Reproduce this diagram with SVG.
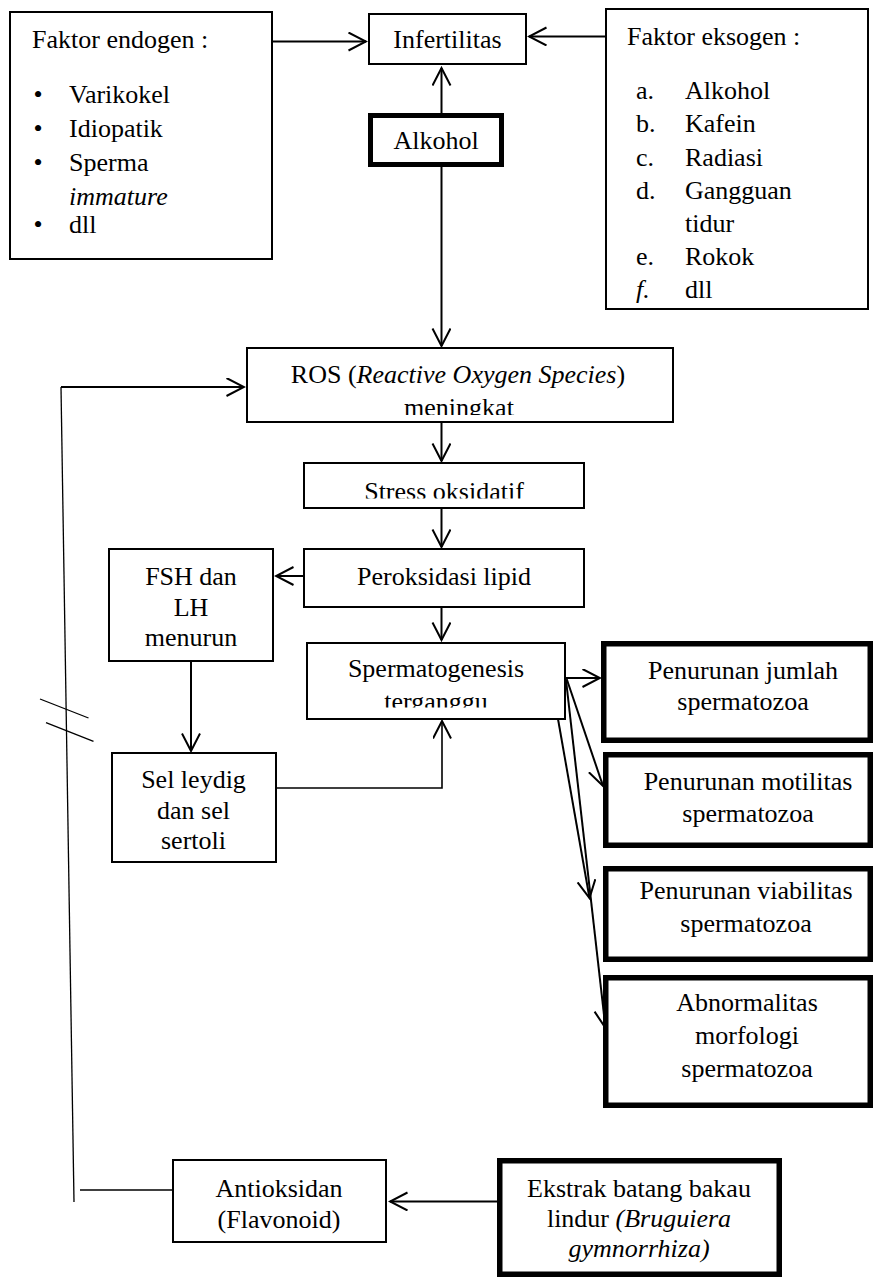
<svg xmlns="http://www.w3.org/2000/svg" width="873" height="1281" viewBox="0 0 873 1281" font-family="Liberation Serif, Times New Roman, serif">
<style>
text{font-size:26px;fill:#000}
.c{text-anchor:middle}
.i{font-style:italic}
.box{fill:#fff;stroke:#000;stroke-width:2}
.thick{fill:#fff;stroke:#000;stroke-width:5.5}
.ln{fill:none;stroke:#000;stroke-width:2}
.thin{fill:none;stroke:#000;stroke-width:1.3}
.arr{marker-end:url(#ah)}
</style>
<defs>
<marker id="ah" markerUnits="userSpaceOnUse" viewBox="0 0 20 20" markerWidth="20" markerHeight="20" refX="18" refY="9.5" orient="auto">
<path d="M0.5,0.5 L18,9.5 L0.5,18.5" fill="none" stroke="#000" stroke-width="2"/>
</marker>
<clipPath id="clipRos"><rect x="247" y="348" width="426" height="67"/></clipPath>
<clipPath id="clipStress"><rect x="304" y="463" width="280" height="35.5"/></clipPath>
<clipPath id="clipSperm"><rect x="307" y="643" width="258" height="64.5"/></clipPath>
</defs>
<rect width="873" height="1281" fill="#fff"/>

<g id="connectors">
<path class="ln arr" d="M272,41.5 H366"/>
<path class="ln arr" d="M606,36.5 H529"/>
<path class="ln arr" d="M441.5,113 V68"/>
<path class="ln arr" d="M441.5,167 V346"/>
<path class="ln arr" d="M441.5,422 V461"/>
<path class="ln arr" d="M441.5,508 V547"/>
<path class="ln arr" d="M304,576 H276"/>
<path class="ln arr" d="M441.5,607 V640"/>
<path class="ln arr" d="M191,661 V751"/>
<path class="ln arr" style="stroke-width:1.6" d="M276,788 H442 V721"/>
<path class="ln arr" d="M565,678 H600"/>
<path class="ln arr" d="M566.7,679 L603,786"/>
<path class="ln arr" d="M558,719 L589.5,898"/>
<path class="ln arr" d="M566,680 L605.5,1028"/>
<path class="thin" d="M74,1202 L61,387"/>
<path class="ln arr" d="M61,387 H244"/>
<path class="thin" d="M40,699 L88.5,718"/>
<path class="thin" d="M46,722.7 L93.5,741.3"/>
<path class="thin" d="M80,1190 H173"/>
<path class="ln arr" d="M497,1201.5 H390"/>
</g>

<g id="endogen">
<rect class="box" x="10" y="12" width="262" height="247"/>
<text x="32" y="48">Faktor endogen :</text>
<text class="c" x="38" y="103">•</text>
<text class="c" x="38" y="137">•</text>
<text class="c" x="38" y="171">•</text>
<text class="c" x="38" y="233">•</text>
<text x="69" y="103">Varikokel</text>
<text x="69" y="137">Idiopatik</text>
<text x="69" y="171">Sperma</text>
<text class="i" x="69" y="205">immature</text>
<text x="69" y="233">dll</text>
</g>

<g id="infertilitas">
<rect class="box" x="369" y="14" width="157" height="50"/>
<text class="c" x="447.5" y="48">Infertilitas</text>
</g>

<g id="alkohol">
<rect class="box" style="stroke-width:5" x="370.5" y="115.5" width="131" height="49"/>
<text class="c" x="436" y="149">Alkohol</text>
</g>

<g id="eksogen">
<rect class="box" x="606" y="9" width="262" height="300"/>
<text x="627" y="45">Faktor eksogen :</text>
<text x="636" y="98.5">a.</text><text x="685" y="98.5">Alkohol</text>
<text x="636" y="132">b.</text><text x="685" y="132">Kafein</text>
<text x="636" y="165.5">c.</text><text x="685" y="165.5">Radiasi</text>
<text x="636" y="199">d.</text><text x="685" y="199">Gangguan</text>
<text x="685" y="232">tidur</text>
<text x="636" y="265">e.</text><text x="685" y="265">Rokok</text>
<text class="i" x="636" y="298">f.</text><text x="685" y="298">dll</text>
</g>

<g id="ros">
<rect class="box" x="247" y="348" width="426" height="74"/>
<g clip-path="url(#clipRos)">
<text class="c" x="458" y="383">ROS (<tspan class="i">Reactive Oxygen Species</tspan>)</text>
<text class="c" x="459" y="416">meningkat</text>
</g>
</g>

<g id="stress">
<rect class="box" x="304" y="463" width="280" height="45"/>
<text class="c" x="444" y="500" clip-path="url(#clipStress)">Stress oksidatif</text>
</g>

<g id="peroksidasi">
<rect class="box" x="304" y="549" width="280" height="58"/>
<text class="c" x="444" y="585">Peroksidasi lipid</text>
</g>

<g id="fsh">
<rect class="box" x="109" y="549" width="164" height="112"/>
<text class="c" x="191" y="585">FSH dan</text>
<text class="c" x="191" y="616">LH</text>
<text class="c" x="191" y="646">menurun</text>
</g>

<g id="spermatogenesis">
<rect class="box" x="307" y="643" width="258" height="76"/>
<g clip-path="url(#clipSperm)">
<text class="c" x="436" y="677">Spermatogenesis</text>
<text class="c" x="436" y="710">terganggu</text>
</g>
</g>

<g id="sel">
<rect class="box" x="112" y="753" width="164" height="109"/>
<text class="c" x="193.5" y="788">Sel leydig</text>
<text class="c" x="193.5" y="819">dan sel</text>
<text class="c" x="193.5" y="849">sertoli</text>
</g>

<g id="jumlah">
<rect class="thick" x="603.75" y="643.75" width="266.5" height="96.5"/>
<text class="c" x="743" y="679">Penurunan jumlah</text>
<text class="c" x="743" y="710">spermatozoa</text>
</g>

<g id="motilitas">
<rect class="thick" x="605.75" y="754.75" width="264.5" height="90.5"/>
<text class="c" x="748" y="790">Penurunan motilitas</text>
<text class="c" x="748" y="822">spermatozoa</text>
</g>

<g id="viabilitas">
<rect class="thick" x="605.75" y="868.75" width="264.5" height="90.5"/>
<text class="c" x="746" y="899">Penurunan viabilitas</text>
<text class="c" x="746" y="932">spermatozoa</text>
</g>

<g id="abnormalitas">
<rect class="thick" x="605.75" y="977.75" width="264.5" height="127.5"/>
<text class="c" x="747" y="1011">Abnormalitas</text>
<text class="c" x="747" y="1044">morfologi</text>
<text class="c" x="747" y="1077">spermatozoa</text>
</g>

<g id="antioksidan">
<rect class="box" x="173" y="1160" width="213" height="82"/>
<text class="c" x="279" y="1197">Antioksidan</text>
<text class="c" x="279" y="1228">(Flavonoid)</text>
</g>

<g id="ekstrak">
<rect class="thick" x="499.75" y="1160.75" width="279.5" height="113.5"/>
<text class="c" x="639" y="1197">Ekstrak batang bakau</text>
<text class="c" x="639" y="1227">lindur <tspan class="i">(Bruguiera</tspan></text>
<text class="c i" x="639" y="1257">gymnorrhiza)</text>
</g>
</svg>
